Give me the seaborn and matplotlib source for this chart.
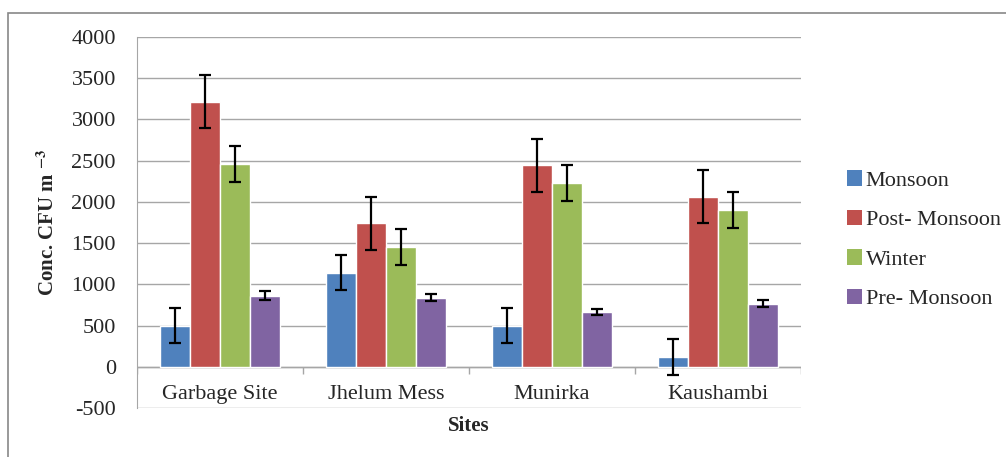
import pandas as pd
import numpy as np
import matplotlib.pyplot as plt
import seaborn as sns
from matplotlib.patches import Rectangle, Patch

# Werte
sites = ['Garbage Site', 'Jhelum Mess', 'Munirka', 'Kaushambi']
seasons = ['Monsoon', 'Post- Monsoon', 'Winter', 'Pre- Monsoon']
monsoon = [500, 1143, 500, 121]
post_monsoon = [3216, 1742, 2444, 2064]
winter = [2464, 1451, 2230, 1903]
pre_monsoon = [864, 840, 667, 767]
err_monsoon = [215, 215, 215, 215]
err_post = [320, 320, 320, 320]
err_winter = [220, 220, 220, 220]
err_pre = [50, 45, 40, 40]
yticks = [-500, 0, 500, 1000, 1500, 2000, 2500, 3000, 3500, 4000]

colors = ['#4F81BD', '#C0504D', '#9BBB59', '#8064A2']

values = [monsoon, post_monsoon, winter, pre_monsoon]
errors = [err_monsoon, err_post, err_winter, err_pre]
rows = []
for s, vals in zip(seasons, values):
    for site, v in zip(sites, vals):
        rows.append({'Site': site, 'Season': s, 'Conc': v})
df = pd.DataFrame(rows)

sns.set_style('white')
plt.rcParams['font.family'] = 'serif'
plt.rcParams['font.serif'] = ['Liberation Serif', 'DejaVu Serif']
plt.rcParams['mathtext.fontset'] = 'stix'

fig = plt.figure(figsize=(10.06, 4.57), dpi=100)
ax = fig.add_axes([0.136, 0.107, 0.66, 0.812])

sns.barplot(data=df, x='Site', y='Conc', hue='Season', hue_order=seasons,
            order=sites, palette=colors, width=0.72, errorbar=None,
            saturation=1, ax=ax, legend=False, zorder=3)

# Fehlerbalken an den Balkenmitten
for cont, errs in zip(ax.containers, errors):
    xs = [p.get_x() + p.get_width() / 2 for p in cont.patches]
    hs = [p.get_height() for p in cont.patches]
    ax.errorbar(xs, hs, yerr=errs, fmt='none', ecolor='black',
                elinewidth=1.6, capsize=4, capthick=1.6, zorder=4)

ax.set_ylim(-500, 4000)
ax.set_xlim(-0.5, 3.5)
ax.set_yticks(yticks)
ax.set_yticklabels([str(t) for t in yticks], fontsize=16)
ax.yaxis.grid(True, color='#A6A6A6', linewidth=1)
ax.set_axisbelow(True)
for sp in ['top', 'right', 'bottom']:
    ax.spines[sp].set_visible(False)
ax.spines['left'].set_color('#A6A6A6')
ax.tick_params(axis='y', direction='out', length=5, color='#A6A6A6', pad=10)

# Nulllinie mit Kategorie-Ticks
ax.axhline(0, color='#A6A6A6', linewidth=1, zorder=2)
ax.vlines(np.arange(-0.5, 4.0, 1.0), -85, 0, color='#A6A6A6', linewidth=1, zorder=2)

ax.set_xticks([])
for i, s in enumerate(sites):
    ax.text(i, -340, s, ha='center', va='center', fontsize=16)

ax.set_xlabel('Sites', fontsize=15, fontweight='bold', labelpad=6)
ax.set_ylabel(r'Conc. CFU m $^{\mathbf{-3}}$', fontsize=15, fontweight='bold')
ax.yaxis.set_label_coords(-0.118, 0.5)

handles = [Patch(facecolor=c, edgecolor='none') for c in colors]
fig.legend(handles, seasons, loc='center left', bbox_to_anchor=(0.822, 0.475),
           frameon=False, fontsize=16, handlelength=0.7, handleheight=0.7,
           handletextpad=0.15, labelspacing=0.85)

# Rahmen um die ganze Grafik (rechts und unten abgeschnitten)
fig.patches.append(Rectangle((0.008, -0.01), 1.05, 0.982, transform=fig.transFigure,
                             fill=False, edgecolor='#888888', linewidth=1.2))

plt.savefig('out.png', dpi=100)
plt.close()
